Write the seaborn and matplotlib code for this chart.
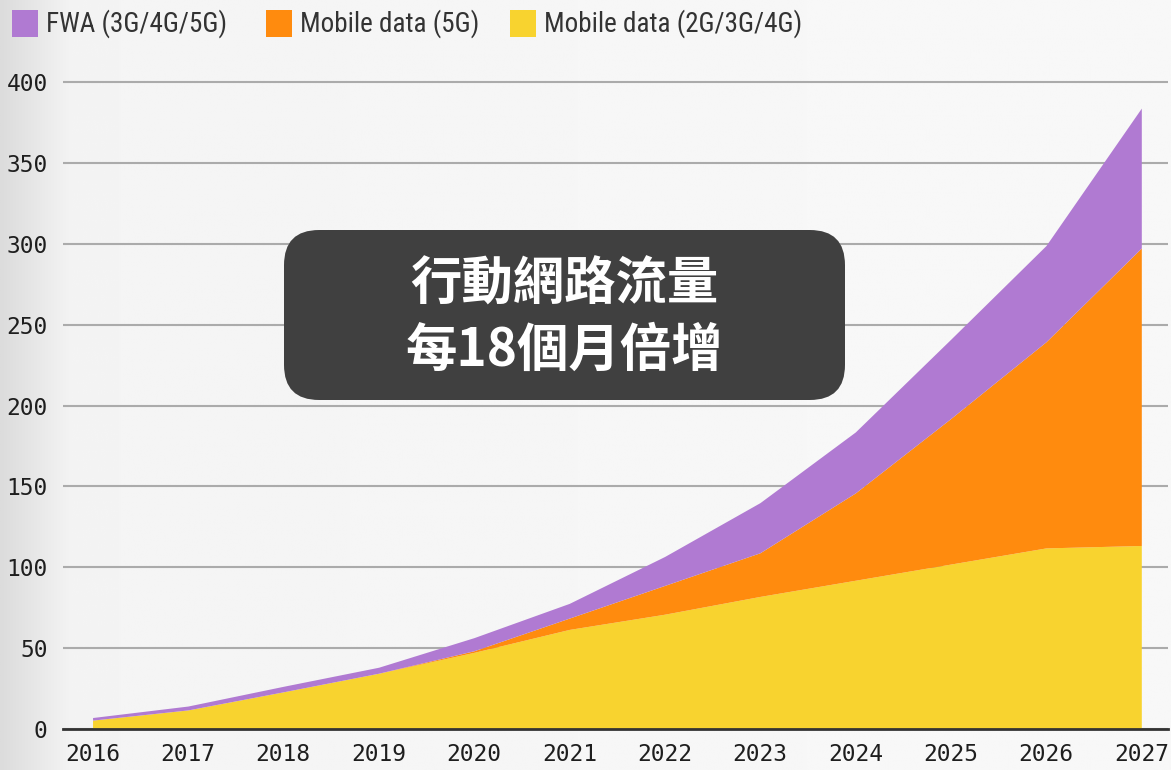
import numpy as np
import matplotlib
matplotlib.use("Agg")
import matplotlib.pyplot as plt
import seaborn as sns
from matplotlib.patches import FancyBboxPatch, Rectangle
from matplotlib import font_manager

# Data (exabytes per month)
years = [2016, 2017, 2018, 2019, 2020, 2021, 2022, 2023, 2024, 2025, 2026, 2027]
mobile_2g4g = [5.5, 11.8, 23.0, 34.5, 47.4, 61.6, 71.0, 82.0, 92.0, 102.0, 112.0, 113.5]
mobile_5g = [0.0, 0.0, 0.0, 0.0, 1.0, 7.0, 17.8, 27.0, 54.0, 90.0, 127.5, 184.0]
fwa = [1.6, 2.4, 3.4, 3.7, 8.1, 9.1, 17.9, 31.0, 37.7, 49.0, 59.5, 86.5]

series_labels = ["FWA (3G/4G/5G)", "Mobile data (5G)", "Mobile data (2G/3G/4G)"]
series_colors = ["#b07ad2", "#ff8b0e", "#f8d32f"]
y_ticks = [0, 50, 100, 150, 200, 250, 300, 350, 400]
box_text = "行動網路流量\n每18個月倍增"

sns.set_style("white")
plt.rcParams['font.family'] = ['DejaVu Sans Mono']

# pick a narrow face for the legend if one is installed
installed = {f.name for f in font_manager.fontManager.ttflist}
legend_family = "DejaVu Sans"
legend_size = 16
for cand in ["Liberation Sans Narrow", "DejaVu Sans Condensed", "Roboto Condensed"]:
    if cand in installed:
        legend_family = cand
        legend_size = 19.5
        break

fig = plt.figure(figsize=(11.71, 7.70), dpi=100)
fig.patch.set_facecolor("#f5f5f5")

# soft background gradient (darker on the left edge)
bg = fig.add_axes([0, 0, 1, 1], zorder=-10)
grad = np.linspace(0, 1, 400)
shade = 0.86 + 0.11 * np.clip(grad / 0.07, 0, 1)
shade = np.minimum(shade, 0.955 + 0.02 * grad)
bg.imshow(np.tile(shade, (10, 1)), cmap="gray", vmin=0, vmax=1, aspect="auto",
          extent=[0, 1, 0, 1])
bg.set_axis_off()

ax = fig.add_axes([63 / 1171, 1 - 729 / 770, (1168 - 63) / 1171, (729 - 79) / 770])
ax.set_facecolor("none")

ax.stackplot(years, mobile_2g4g, mobile_5g, fwa,
             colors=[series_colors[2], series_colors[1], series_colors[0]],
             linewidth=0, zorder=3)

ax.set_xlim(2016 - 0.31, 2027 + 0.28)
ax.set_ylim(0, 402)
ax.set_yticks(y_ticks)
ax.set_xticks(years)
ax.grid(axis="y", color="#ababab", linewidth=1.5, zorder=0)
ax.grid(axis="x", visible=False)
for s in ["top", "right", "left"]:
    ax.spines[s].set_visible(False)
ax.spines["bottom"].set_color("#333333")
ax.spines["bottom"].set_linewidth(2)
ax.spines["bottom"].set_zorder(5)
ax.tick_params(axis="both", length=0, labelsize=16.5, colors="#1e1e1e")
ax.tick_params(axis="y", pad=11)
ax.tick_params(axis="x", pad=10)

# legend drawn across the top
legend_x = [12, 266, 510]
for lx, lab, col in zip(legend_x, series_labels, series_colors):
    fig.add_artist(Rectangle((lx / 1171, 1 - 37 / 770), 26 / 1171, 27 / 770,
                             transform=fig.transFigure, facecolor=col, edgecolor="none"))
    fig.text((lx + 34) / 1171, 1 - 23.5 / 770, lab, ha="left", va="center",
             fontsize=legend_size, color="#333333",
             family=[legend_family, "DejaVu Sans"])

# callout box
box = FancyBboxPatch((284 / 1171, 1 - 400 / 770), (845 - 284) / 1171, (400 - 230) / 770,
                     boxstyle="round,pad=0,rounding_size=0.03",
                     transform=fig.transFigure, facecolor="#404040", edgecolor="none",
                     zorder=10, mutation_aspect=1171 / 770)
fig.add_artist(box)
fig.text(564 / 1171, 1 - 317 / 770, box_text, ha="center", va="center",
         fontsize=37, color="white", fontweight="bold", linespacing=1.32,
         family=["Noto Sans CJK TC", "DejaVu Sans"], zorder=11)

fig.savefig("out.png", dpi=100)
